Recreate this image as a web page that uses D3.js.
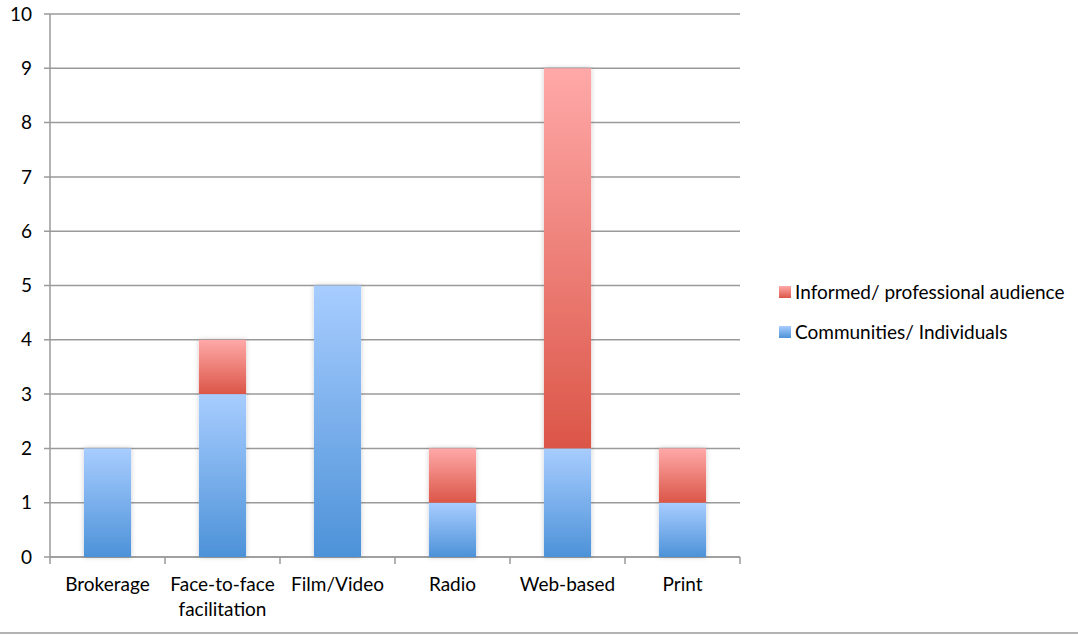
<!DOCTYPE html>
<html>
<head>
<meta charset="utf-8">
<script src="https://cdn.jsdelivr.net/npm/d3@7"></script>
<style>
  html, body { margin: 0; padding: 0; background: #fff; }
  svg { display: block; font-family: Lato, "Open Sans", sans-serif; }
</style>
</head>
<body>
<svg id="chart" width="1078" height="635"></svg>
<script>
// Categories and stacked series values
const categories = ["Brokerage", "Face-to-face facilitation", "Film/Video", "Radio", "Web-based", "Print"];
const communities = [2, 3, 5, 1, 2, 1];
const informed = [0, 1, 0, 1, 7, 1];
const seriesNames = ["Communities/ Individuals", "Informed/ professional audience"];
const yTicks = [0, 1, 2, 3, 4, 5, 6, 7, 8, 9, 10];

const svg = d3.select("#chart");
const plotLeft = 50, plotRight = 740, plotTop = 14, plotBottom = 557;
const fontSize = 19;

const x = d3.scaleBand().domain(categories).range([plotLeft, plotRight]).paddingInner(0.59).paddingOuter(0.295);
const y = d3.scaleLinear().domain([0, 10]).range([plotBottom, plotTop]);

const defs = svg.append("defs");
function grad(id, c0, c1) {
  const g = defs.append("linearGradient").attr("id", id).attr("x1", 0).attr("y1", 0).attr("x2", 0).attr("y2", 1);
  g.append("stop").attr("offset", "0%").attr("stop-color", c0);
  g.append("stop").attr("offset", "100%").attr("stop-color", c1);
}
grad("gBlue", "#a8cdff", "#4d92d8");
grad("gRed", "#ffa9a8", "#db5648");
const sh = defs.append("filter").attr("id", "shadow").attr("x", "-30%").attr("y", "-10%").attr("width", "160%").attr("height", "120%");
sh.append("feDropShadow").attr("dx", 0).attr("dy", 0).attr("stdDeviation", 2.5).attr("flood-color", "#000").attr("flood-opacity", 0.22);

// Horizontal gridlines with tick stubs
const grid = svg.append("g").attr("class", "grid");
grid.selectAll("line").data(yTicks).join("line")
  .attr("x1", plotLeft - 6).attr("x2", plotRight)
  .attr("y1", d => y(d)).attr("y2", d => y(d))
  .attr("stroke", "#9a9a9a").attr("stroke-width", 1.5);

// Y axis line
svg.append("line").attr("x1", plotLeft).attr("x2", plotLeft).attr("y1", plotTop).attr("y2", plotBottom)
  .attr("stroke", "#9a9a9a").attr("stroke-width", 1.5);

// Y tick labels
svg.append("g").selectAll("text").data(yTicks).join("text")
  .attr("x", 32).attr("y", d => y(d)).attr("dy", "0.35em")
  .attr("text-anchor", "end").attr("font-size", fontSize).attr("fill", "#000")
  .text(d => d);

// X axis baseline and category ticks
svg.append("line").attr("x1", plotLeft).attr("x2", plotRight).attr("y1", plotBottom).attr("y2", plotBottom)
  .attr("stroke", "#9a9a9a").attr("stroke-width", 1.5);
const tickXs = d3.range(categories.length + 1).map(i => plotLeft + i * x.step());
svg.append("g").selectAll("line").data(tickXs).join("line")
  .attr("x1", d => d).attr("x2", d => d).attr("y1", plotBottom).attr("y2", plotBottom + 7)
  .attr("stroke", "#9a9a9a").attr("stroke-width", 1.5);

// Stacked bars
const rows = categories.map((c, i) => ({ cat: c, communities: communities[i], informed: informed[i] }));
const stack = d3.stack().keys(["communities", "informed"])(rows);
const fills = ["url(#gBlue)", "url(#gRed)"];
const bars = svg.append("g").attr("filter", "url(#shadow)");
stack.forEach((layer, li) => {
  bars.selectAll(null).data(layer.filter(d => d[1] > d[0])).join("rect")
    .attr("x", d => x(d.data.cat))
    .attr("width", x.bandwidth())
    .attr("y", d => y(d[1]))
    .attr("height", d => y(d[0]) - y(d[1]))
    .attr("fill", fills[li]);
});

// Category labels (wrapped to two lines where needed)
const labelLines = { "Face-to-face facilitation": ["Face-to-face", "facilitation"] };
const lbl = svg.append("g").selectAll("text").data(categories).join("text")
  .attr("x", d => x(d) + x.bandwidth() / 2).attr("y", 591)
  .attr("text-anchor", "middle").attr("font-size", fontSize).attr("fill", "#000");
lbl.each(function(d) {
  const lines = labelLines[d] || [d];
  d3.select(this).selectAll("tspan").data(lines).join("tspan")
    .attr("x", x(d) + x.bandwidth() / 2)
    .attr("dy", (l, i) => i === 0 ? 0 : 25)
    .text(l => l);
});

// Legend
const legendItems = [
  { name: seriesNames[1], fill: "url(#gRed)", y: 292 },
  { name: seriesNames[0], fill: "url(#gBlue)", y: 332 }
];
const lg = svg.append("g").selectAll("g").data(legendItems).join("g");
lg.append("rect").attr("x", 779).attr("y", d => d.y - 6).attr("width", 12).attr("height", 12).attr("fill", d => d.fill);
lg.append("text").attr("x", 795).attr("y", d => d.y).attr("dy", "0.35em")
  .attr("font-size", fontSize).attr("fill", "#000").text(d => d.name);

// Bottom frame line
svg.append("line").attr("x1", 0).attr("x2", 1078).attr("y1", 633).attr("y2", 633)
  .attr("stroke", "#9a9a9a").attr("stroke-width", 1.5);
</script>
</body>
</html>
